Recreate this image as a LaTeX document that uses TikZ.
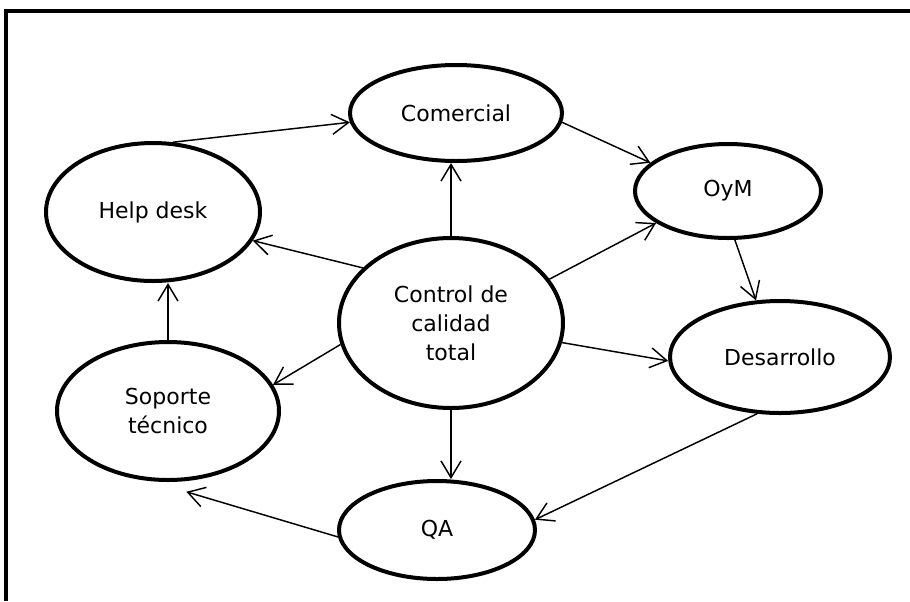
\documentclass[tikz,border=0pt]{standalone}
\usepackage{fontspec}
\setmainfont{DejaVu Sans}
\usetikzlibrary{arrows.meta}
\usetikzlibrary{shapes.geometric}
\tikzset{>={Straight Barb[length=12.5pt,width=15pt]}}
\tikzset{
  area/.style={ellipse, draw, line width=3pt, inner sep=0pt, align=center,
    font=\fontsize{16.5}{21.75}\selectfont},
  link/.style={->, line width=1.1pt}
}

\begin{document}
\begin{tikzpicture}[x=0.75pt,y=-0.75pt]
    \useasboundingbox (0,0) rectangle (910,601);
    % frame
    \draw[line width=3pt] (5.5,601) -- (5.5,11) -- (910,11);
    %
    \node[area, minimum width=159pt, minimum height=72pt] (com) at (456,113) {Comercial};
    \node[area, minimum width=160.5pt, minimum height=103.5pt] (help) at (153,212) {Help desk};
    \node[area, minimum width=168pt, minimum height=127.5pt] (ctrl) at (451,323) {Control de\\calidad\\total};
    \node[area, minimum width=139.5pt, minimum height=70.5pt] (oym) at (728,191) {OyM};
    \node[area, minimum width=165pt, minimum height=84pt] (des) at (780,357) {Desarrollo};
    \node[area, minimum width=166.5pt, minimum height=103.5pt] (sop) at (168,411) {Soporte\\técnico};
    \node[area, minimum width=147pt, minimum height=73.5pt] (qa) at (437,530) {QA};
    %
    \draw[link] (help.74) -- (com.185);
    \draw[link] (com.-5) -- (oym.160);
    \draw[link] (oym.-82) -- (des.113);
    \draw[link] (des.-112) -- (qa.6);
    \draw[link, shorten >=28pt] (qa.184) -- (sop.-104);
    \draw[link] (sop.north) -- (sop.north |- help.south);
    %
    \draw[link] (ctrl.north) -- (ctrl.north |- com.south);
    \draw[link] (ctrl.24) -- (oym.204);
    \draw[link] (ctrl.-10) -- (des.182);
    \draw[link] (ctrl.south) -- (ctrl.south |- qa.north);
    \draw[link] (ctrl.191) -- (sop.14);
    \draw[link] (ctrl.148) -- (help.-16);
\end{tikzpicture}
\end{document}
